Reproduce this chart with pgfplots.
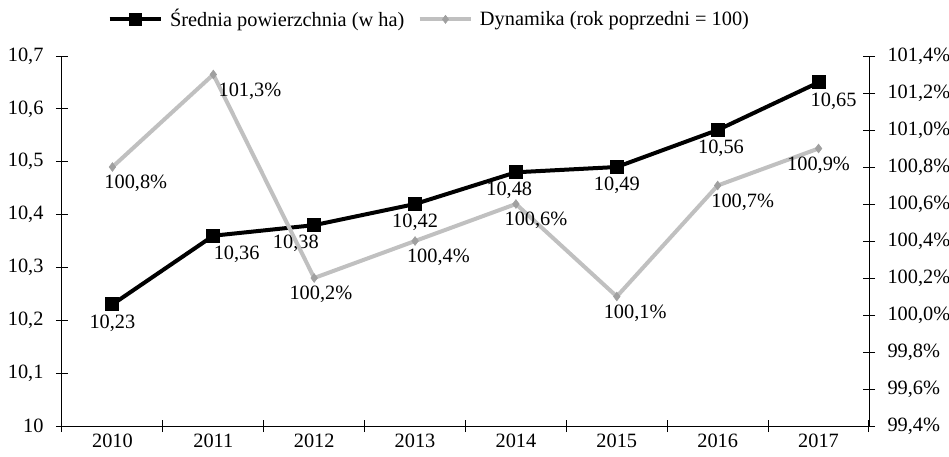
\documentclass[border=0pt]{standalone}
\usepackage{pgfplots}
\pgfplotsset{compat=1.18}
\usepackage{pgfplotstable}
\usepackage{fontspec}
\setmainfont{Liberation Serif}
\definecolor{lgray}{HTML}{C0C0C0}
\definecolor{mgray}{HTML}{A0A0A0}
\newcommand{\fs}{\fontsize{12.2}{14}\selectfont}

\pgfplotstableread{
x y dx
0 10.23 0
1 10.36 14
2 10.38 -11
3 10.42 0
4 10.48 -4
5 10.49 0
6 10.56 2
7 10.65 9
}\srednia

\pgfplotstableread{
x y dx
0 100.8 14
1 101.3 22
2 100.2 4
3 100.4 14
4 100.6 12
5 100.1 11
6 100.7 15
7 100.9 0
}\dynamika

\begin{document}
\begin{tikzpicture}
\useasboundingbox (-37.2pt,-18pt) rectangle (532.2pt,255.6pt);
\begin{axis}[
  at={(0,0)}, anchor=south west,
  scale only axis, width=484.2pt, height=222pt,
  xmin=-0.5, xmax=7.5, ymin=10, ymax=10.7,
  axis x line*=bottom, axis y line*=left,
  axis line style={line width=0.6pt, -},
  xtick={0,...,7}, xticklabels={2010,2011,2012,2013,2014,2015,2016,2017},
  major x tick style={draw=none},
  minor xtick={-0.5,0.5,...,7.5},
  ytick={10,10.1,...,10.71},
  tick align=center, major tick length=7.2pt, minor tick length=7.2pt,
  tick style={line width=0.6pt, black},
  /pgf/number format/assume math mode=true,
  /pgf/number format/use comma,
  yticklabel style={/pgf/number format/fixed, /pgf/number format/precision=1, xshift=-4pt},
  tick label style={font=\fs},
  xticklabel style={yshift=0pt, inner sep=1pt},
  legend style={at={(0.456,1)}, anchor=center, yshift=22pt, draw=none, fill=none,
    font=\fs, legend columns=2, column sep=2pt,
    /tikz/every even column/.append style={column sep=6pt}},
  legend image code/.code={\draw[mark repeat=2,mark phase=2,#1] plot coordinates {(0pt,0pt)(15.5pt,0pt)(31pt,0pt)};},
  clip=false,
]
\addlegendimage{black, line width=2.4pt, mark=square*, mark size=2.8pt, mark options={solid}}
\addlegendentry{Średnia powierzchnia (w ha)}
\addlegendimage{lgray, line width=2.4pt, mark=diamond*, mark size=2.4pt, mark options={fill=mgray, draw=mgray, line width=0.4pt}}
\addlegendentry{Dynamika (rok poprzedni = 100)}
\addplot[black, line width=2.4pt, mark=square*, mark size=3pt,
  nodes near coords={\pgfmathprintnumber[fixed,fixed zerofill,precision=2,use comma,assume math mode=true]{\pgfplotspointmeta}},
  visualization depends on={\thisrow{dx}\as\dx},
  nodes near coords style={font=\fs, text=black, anchor=north, xshift=\dx pt, yshift=-1.5pt}]
  table[x=x,y=y] {\srednia};
\end{axis}
\begin{axis}[
  at={(0,0)}, anchor=south west,
  scale only axis, width=484.2pt, height=222pt,
  xmin=-0.5, xmax=7.5, ymin=99.4, ymax=101.4,
  axis x line=none, axis y line*=right,
  axis line style={line width=0.6pt, -},
  ytick={99.4,99.6,...,101.41},
  tick align=center, major tick length=7.2pt,
  tick style={line width=0.6pt, black},
  yticklabel={\pgfmathprintnumber[fixed,fixed zerofill,precision=1,use comma,assume math mode=true]{\tick}\%},
  yticklabel style={xshift=4pt},
  tick label style={font=\fs},
  clip=false,
]
\addplot[lgray, line width=2.4pt, mark=diamond*, mark size=2.6pt,
  mark options={fill=mgray, draw=mgray, line width=0.4pt},
  nodes near coords={\pgfmathprintnumber[fixed,fixed zerofill,precision=1,use comma,assume math mode=true]{\pgfplotspointmeta}\%},
  visualization depends on={\thisrow{dx}\as\dx},
  nodes near coords style={font=\fs, text=black, anchor=north, xshift=\dx pt, yshift=-1.5pt}]
  table[x=x,y=y] {\dynamika};
\end{axis}
\end{tikzpicture}
\end{document}
